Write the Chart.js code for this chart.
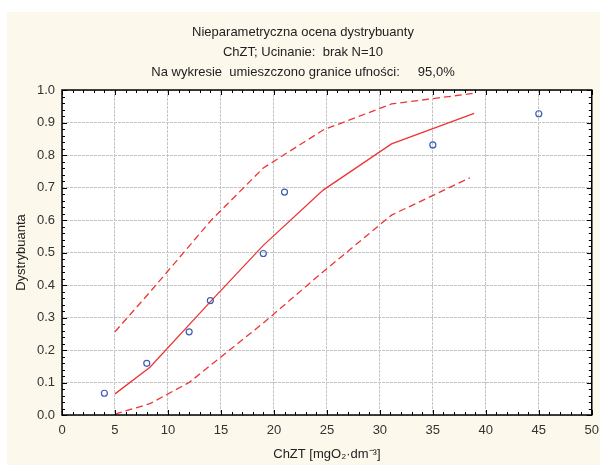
<!DOCTYPE html>
<html>
<head>
<meta charset="utf-8">
<script src="https://cdn.jsdelivr.net/npm/chart.js@4.4.1/dist/chart.umd.min.js"></script>
<style>
    html, body { margin: 0; padding: 0; background: #ffffff; }
    #wrap { position: absolute; left: 7px; top: 12px; width: 593px; height: 453px; background: #fcf8ec; }
</style>
</head>
<body>
<div id="wrap"><canvas id="wykres" width="592" height="453"></canvas></div>
<script>
// Obserwacje (ChZT, dystrybuanta empiryczna)
const obsX = [4, 8, 12, 14, 19, 21, 35, 45];
const obsY = [0.067, 0.159, 0.256, 0.352, 0.497, 0.686, 0.831, 0.927];

// Ocena dystrybuanty
const ocenaX = [5, 8.3, 14.1, 19, 24.65, 31.1, 38.9];
const ocenaY = [0.065, 0.147, 0.352, 0.522, 0.692, 0.834, 0.928];

// Górna granica ufności 95%
const gornaX = [5, 8.3, 14.1, 19, 24.65, 31.1, 38.9];
const gornaY = [0.256, 0.378, 0.600, 0.760, 0.877, 0.957, 0.990];

// Dolna granica ufności 95%
const dolnaX = [5, 8.3, 12, 14.1, 19, 24.65, 31.1, 38.5];
const dolnaY = [0.003, 0.035, 0.100, 0.155, 0.283, 0.441, 0.615, 0.730];

const tytul = [
    'Nieparametryczna ocena dystrybuanty',
    'ChZT; Ucinanie:  brak N=10',
    'Na wykresie  umieszczono granice ufności:     95,0%'
];

const punkty = (xs, ys) => xs.map((x, i) => ({ x: x, y: ys[i] }));

const CZERWONY = '#ee3535';

// Ramka wykresu z drobnymi podziałkami skierowanymi do środka
const ramka = {
    id: 'ramka',
    afterDraw(chart){
        const { ctx, chartArea: a, scales: { x, y } } = chart;
        ctx.save();
        ctx.strokeStyle = '#000000';
        ctx.lineWidth = 1;
        ctx.beginPath();
        for(let v = 0; v <= 50; v += 1){
            const px = Math.round(x.getPixelForValue(v)) + 0.5;
            const len = (v % 5 === 0) ? 5 : 3;
            ctx.moveTo(px, a.bottom); ctx.lineTo(px, a.bottom - len);
            ctx.moveTo(px, a.top);    ctx.lineTo(px, a.top + len);
        }
        for(let k = 0; k <= 50; k++){
            const py = Math.round(y.getPixelForValue(k / 50)) + 0.5;
            const len = (k % 5 === 0) ? 5 : 3;
            ctx.moveTo(a.left, py);  ctx.lineTo(a.left + len, py);
            ctx.moveTo(a.right, py); ctx.lineTo(a.right - len, py);
        }
        ctx.stroke();
        ctx.lineWidth = 1.5;
        ctx.strokeRect(a.left, a.top, a.right - a.left, a.bottom - a.top);
        ctx.restore();
    }
};

const tlo = {
    id: 'tlo',
    beforeDraw(chart){
        const { ctx, chartArea: a } = chart;
        ctx.save();
        ctx.fillStyle = '#ffffff';
        ctx.fillRect(a.left, a.top, a.right - a.left, a.bottom - a.top);
        ctx.restore();
    }
};

Chart.defaults.font.family = '"Liberation Sans", Arial, sans-serif';
Chart.defaults.font.size = 13;
Chart.defaults.color = '#222222';

new Chart(document.getElementById('wykres'), {
    type: 'scatter',
    data: {
        datasets: [{
            label: 'Obserwacje',
            data: punkty(obsX, obsY),
            showLine: false,
            pointStyle: 'circle',
            pointRadius: 3,
            pointBorderWidth: 1.2,
            pointBorderColor: '#3b5cb3',
            pointBackgroundColor: 'rgba(0,0,0,0)'
        }, {
            label: 'Dystrybuanta',
            data: punkty(ocenaX, ocenaY),
            showLine: true,
            borderColor: CZERWONY,
            borderWidth: 1.3,
            pointRadius: 0,
            tension: 0
        }, {
            label: 'Górna granica',
            data: punkty(gornaX, gornaY),
            showLine: true,
            borderColor: CZERWONY,
            borderWidth: 1.3,
            borderDash: [7, 4],
            pointRadius: 0,
            tension: 0
        }, {
            label: 'Dolna granica',
            data: punkty(dolnaX, dolnaY),
            showLine: true,
            borderColor: CZERWONY,
            borderWidth: 1.3,
            borderDash: [7, 4],
            pointRadius: 0,
            tension: 0
        }]
    },
    options: {
        responsive: false,
        animation: false,
        layout: { padding: 0 },
        plugins: {
            legend:  { display: false },
            tooltip: { enabled: false },
            title: {
                display: true,
                text: tytul,
                color: '#222222',
                font: { size: 13, weight: 'normal', lineHeight: 20 / 13 },
                padding: { top: 10, bottom: 8 }
            }
        },
        scales: {
            x: {
                type: 'linear',
                min: 0,
                max: 50,
                ticks:  { stepSize: 5, color: '#333333', padding: 0, maxRotation: 0 },
                grid:   { color: '#c4c4c4', lineWidth: 1, drawTicks: true, tickLength: 8, tickColor: 'rgba(0,0,0,0)' },
                border: { display: false, dash: [3, 1] },
                title:  { display: true, text: 'ChZT [mgO₂·dm⁻³]', color: '#222222', padding: { top: 0, bottom: 3 } },
                afterFit(scale){ scale.height = 50; }
            },
            y: {
                type: 'linear',
                min: 0,
                max: 1,
                ticks:  { stepSize: 0.1, color: '#333333', padding: 7, callback: v => v.toFixed(1) },
                grid:   { color: '#c4c4c4', lineWidth: 1, drawTicks: false },
                border: { display: false, dash: [3, 1] },
                title:  { display: true, text: 'Dystrybuanta', color: '#222222', padding: { top: 7, bottom: 0 } },
                afterFit(scale){ scale.width = 55; }
            }
        }
    },
    plugins: [tlo, ramka]
});
</script>
</body>
</html>
